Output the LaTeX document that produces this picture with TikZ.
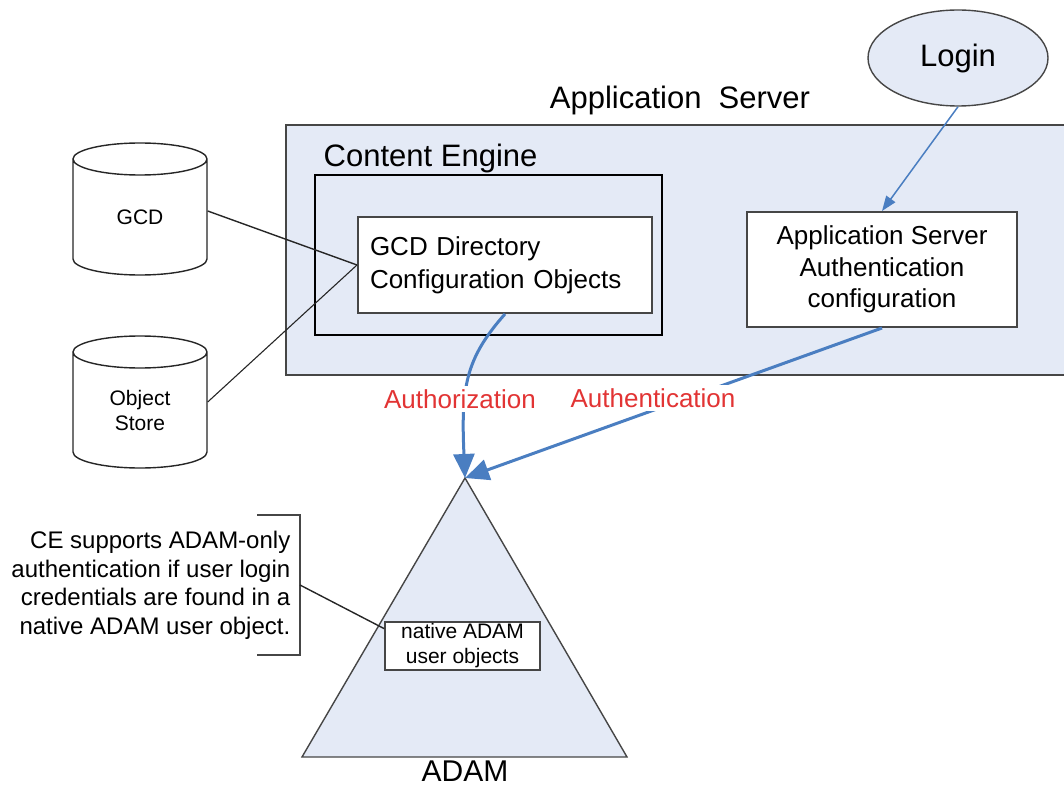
\documentclass[tikz,border=0pt]{standalone}
\usepackage{fontspec}
\setmainfont{Liberation Sans}
\usepackage{xcolor}
\usetikzlibrary{calc,shapes.geometric,arrows.meta}
\definecolor{panelfill}{RGB}{228,234,246}
\definecolor{edgegray}{RGB}{70,70,70}
\definecolor{flowblue}{RGB}{74,126,193}
\definecolor{lblred}{RGB}{226,52,52}

% cylinder drawn round a text position (text sits a little below the middle)
\newcommand{\storecyl}[1]{%
  \draw[black!85, line width=1.4pt, fill=white]
    ([shift={(-67pt,58pt)}]#1) -- ([shift={(-67pt,-42pt)}]#1)
    arc[start angle=180, end angle=360, x radius=67pt, y radius=16pt]
    -- ([shift={(67pt,58pt)}]#1)
    arc[start angle=0, end angle=180, x radius=67pt, y radius=16pt]
    arc[start angle=180, end angle=360, x radius=67pt, y radius=16pt];
}

\begin{document}
\begin{tikzpicture}[
    x=1pt, y=-1pt,
    line width=1.4pt,
    every node/.style={font=\fontsize{26}{32}\selectfont, inner sep=0pt},
    panel/.style={draw=edgegray, fill=panelfill, line width=2pt},
    box/.style={draw=edgegray, fill=white, line width=2pt},
    store/.style={minimum width=134pt, align=center, font=\fontsize{21}{25}\selectfont},
    flow/.style={draw=flowblue, line width=3pt, -{Triangle[length=24pt,width=21pt]}},
    lbl/.style={text=lblred, fill=white, inner sep=3pt}
  ]
    \useasboundingbox (0,0) rectangle (1064,786);

    % application server
    \node[panel, minimum width=789pt, minimum height=250pt] (appsrv) at (680.5,250) {};
    \node[font=\fontsize{31}{36}\selectfont] (appsrvlbl) at (680,100) {Application~~Server};
    \node[ellipse, draw=edgegray, fill=panelfill, minimum width=180pt, minimum height=96pt,
      font=\fontsize{31}{36}\selectfont] (login) at (958,58) {Login};

    % content engine
    \node[draw=black, line width=2pt, minimum width=347pt, minimum height=160pt] (ce) at (488.5,255) {};
    \node[anchor=west, font=\fontsize{31}{36}\selectfont] (celbl) at (323,158) {Content Engine};
    \node[box, text width=270pt, inner xsep=12pt, align=left, minimum height=96pt,
      font=\fontsize{26}{33}\selectfont] (gcddir) at (505,265)
      {GCD Directory\\Configuration Objects};
    \node[box, minimum width=270pt, minimum height=115pt, align=center,
      font=\fontsize{26}{31.5}\selectfont] (appauth) at (882,269.5)
      {Application Server\\Authentication\\configuration};

    % stores
    \coordinate (gcdpos) at (140,217);
    \coordinate (objpos) at (140,410);
    \storecyl{gcdpos}
    \storecyl{objpos}
    \node[store] (gcd) at (gcdpos) {GCD};
    \node[store] (objstore) at (objpos) {Object\\Store};
    \draw[black!85] ([yshift=6pt]gcd.east) -- (gcddir.west);
    \draw[black!85, line width=1.1pt] ([yshift=8pt]objstore.east) -- (gcddir.west);

    % ADAM
    \coordinate (apex) at (465,478);
    \draw[draw=edgegray, fill=panelfill] (apex) -- (627,757) -- (302,757) -- cycle;
    \node[font=\fontsize{30}{34}\selectfont] (adam) at (465,771) {ADAM};
    \node[box, line width=1.6pt, minimum width=155pt, minimum height=48pt, align=center,
      font=\fontsize{21}{25}\selectfont] (native) at (462.5,646) {native ADAM\\user objects};

    % note
    \node[anchor=east, align=right, font=\fontsize{24}{28.5}\selectfont] (note) at (291,585.5)
      {CE supports ADAM-only\\authentication if user login\\credentials are found in a\\native ADAM user object.};
    \coordinate (brktop) at (300,515);
    \coordinate (brkbot) at (300,655);
    \draw[edgegray] (257,515) -- (brktop) -- (brkbot) -- (257,655);
    \draw[black!85] ($(brktop)!.5!(brkbot)$) -- ($(native.north west)!.15!(native.south west)$);

    % flows
    \draw[flowblue, line width=1.5pt, -{Triangle[length=15pt,width=11pt]}] (login.south) -- (appauth.north);
    \draw[flow] (gcddir.south) .. controls +(-40,45) and +(-4,-90) .. (apex);
    \node[lbl] (authz) at (460,399) {Authorization};
    \draw[flow] (appauth.south) -- (apex);
    \node[lbl] (authn) at (653,398) {Authentication};
  \end{tikzpicture}
\end{document}
